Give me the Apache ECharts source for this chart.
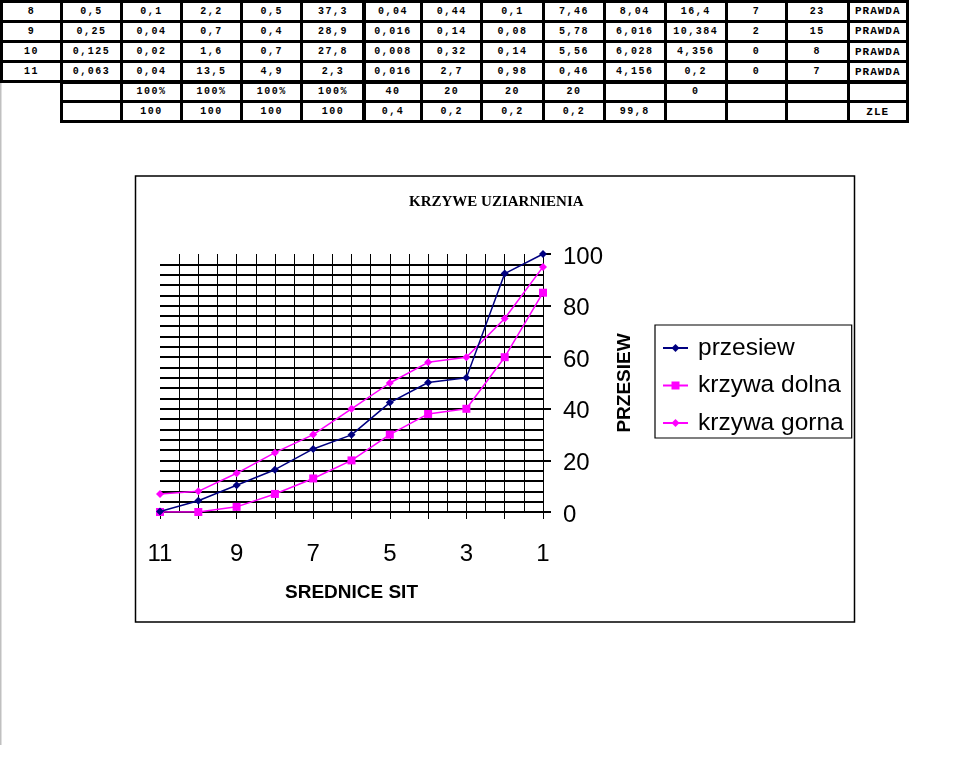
<!DOCTYPE html>
<html>
<head>
<meta charset="utf-8">
<script src="https://cdn.jsdelivr.net/npm/echarts@6/dist/echarts.min.js"></script>
<style>
  html, body { margin: 0; padding: 0; background: #fff; }
  #wrap { position: relative; width: 969px; height: 764px; overflow: hidden; }
  #chart { position: absolute; left: 0; top: 0; width: 969px; height: 764px; }
  #table { position: absolute; left: 0; top: 0; width: 969px; height: 130px; }
  .cell { position: absolute; box-sizing: border-box; border: 3px solid #000; background: #fff;
          font-family: "Liberation Mono", "DejaVu Sans Mono", monospace; font-weight: bold;
          font-size: 10px; letter-spacing: 1.5px; color: #000; display: flex; align-items: center;
          justify-content: center; }
  .cell.word { font-size: 11px; letter-spacing: 1px; }
</style>
</head>
<body>
<div id="wrap">
  <div id="chart"></div>
  <div id="table"></div>
</div>
<script>
// ---- table data ----
const tableRow8  = ["8","0,5","0,1","2,2","0,5","37,3","0,04","0,44","0,1","7,46","8,04","16,4","7","23","PRAWDA"];
const tableRow9  = ["9","0,25","0,04","0,7","0,4","28,9","0,016","0,14","0,08","5,78","6,016","10,384","2","15","PRAWDA"];
const tableRow10 = ["10","0,125","0,02","1,6","0,7","27,8","0,008","0,32","0,14","5,56","6,028","4,356","0","8","PRAWDA"];
const tableRow11 = ["11","0,063","0,04","13,5","4,9","2,3","0,016","2,7","0,98","0,46","4,156","0,2","0","7","PRAWDA"];
const tableRowPct = [null,"","100%","100%","100%","100%","40","20","20","20","","0","","",""];
const tableRowSum = [null,"","100","100","100","100","0,4","0,2","0,2","0,2","99,8","","","","ZLE"];

// ---- chart data ----
const sieves = [11, 10, 9, 8, 7, 6, 5, 4, 3, 2, 1];
const przesiew = [0.2, 4.356, 10.384, 16.4, 24.44, 29.9, 42.4, 50.2, 52.0, 92.4, 100];
const krzywaDolna = [0, 0, 2, 7, 13, 20, 30, 38, 40, 60, 85];
const krzywaGorna = [7, 8, 15, 23, 30, 40, 50, 58, 60, 75, 95];
const xTickLabels = [11, 9, 7, 5, 3, 1];
const seriesNames = ["przesiew", "krzywa dolna", "krzywa gorna"];

// ---- table layout ----
const colLines = [1.7, 61.5, 121.3, 181.5, 241.5, 301.8, 364, 421.8, 481.7, 543.3, 604.5, 665, 726.5, 786.5, 848, 907.5];
const rowLines = [1.7, 21.3, 41.5, 61.8, 82, 101.5, 121.5];
const rows = [tableRow8, tableRow9, tableRow10, tableRow11, tableRowPct, tableRowSum];
const tbl = document.getElementById('table');
rows.forEach((row, r) => {
  row.forEach((txt, c) => {
    if (txt === null) return;
    const d = document.createElement('div');
    d.className = 'cell' + (/[A-Z]/.test(txt) ? ' word' : '');
    const l = colLines[c] - 1.5, t = rowLines[r] - 1.5;
    d.style.left = l + 'px';
    d.style.top = t + 'px';
    d.style.width = (colLines[c + 1] - colLines[c] + 3) + 'px';
    d.style.height = (rowLines[r + 1] - rowLines[r] + 3) + 'px';
    d.textContent = txt;
    tbl.appendChild(d);
  });
});

// ---- chart ----
const chart = echarts.init(document.getElementById('chart'), null, { renderer: 'canvas' });
const toPairs = arr => sieves.map((s, i) => [s, arr[i]]);
const font = "'Liberation Sans', Arial, sans-serif";

chart.setOption({
  animation: false,
  backgroundColor: 'transparent',
  title: {
    text: 'KRZYWE UZIARNIENIA',
    left: 409, top: 194.5, padding: 0,
    textStyle: { fontFamily: "'Liberation Serif', 'Times New Roman', serif", fontWeight: 'bold', fontSize: 15, color: '#000' }
  },
  graphic: [
    { type: 'rect', shape: { x: 135.5, y: 176, width: 719, height: 446 }, style: { fill: 'none', stroke: '#000', lineWidth: 1.5 }, silent: true },
    { type: 'rect', shape: { x: 0, y: 83, width: 1.5, height: 662 }, style: { fill: '#c0c0c0' }, silent: true }
  ],
  legend: {
    orient: 'vertical',
    left: 655, top: 325,
    padding: [10, 8, 2, 7],
    borderColor: '#000', borderWidth: 1.2,
    itemWidth: 25, itemHeight: 10, itemGap: 11.5,
    data: seriesNames,
    textStyle: { fontFamily: font, fontSize: 24.5, color: '#000', lineHeight: 26, padding: [0, 0, 0, 5] }
  },
  grid: { left: 160, right: 426, top: 254, bottom: 252, containLabel: false },
  xAxis: {
    type: 'value', inverse: true, min: 1, max: 11, interval: 1,
    name: 'SREDNICE SIT', nameLocation: 'middle', nameGap: 71,
    nameTextStyle: { fontFamily: font, fontWeight: 'bold', fontSize: 19, color: '#000' },
    axisLine: { show: true, lineStyle: { color: '#000', width: 2 } },
    axisTick: { show: true, length: 7, lineStyle: { color: '#000', width: 1 } },
    axisLabel: {
      margin: 30, fontFamily: font, fontSize: 24, color: '#000',
      formatter: v => (xTickLabels.indexOf(v) >= 0 ? String(v) : '')
    },
    splitLine: { show: true, showMaxLine: false, lineStyle: { color: '#000', width: 1 } },
    minorTick: { show: false, splitNumber: 2 },
    minorSplitLine: { show: true, lineStyle: { color: '#000', width: 1 } }
  },
  yAxis: {
    type: 'value', position: 'right', min: 0, max: 100, interval: 20,
    name: 'PRZESIEW', nameLocation: 'middle', nameGap: 72, nameRotate: 90,
    nameTextStyle: { fontFamily: font, fontWeight: 'bold', fontSize: 19, color: '#000' },
    axisLine: { show: true, lineStyle: { color: '#000', width: 1 } },
    axisTick: { show: true, length: 8, lineStyle: { color: '#000', width: 2 } },
    axisLabel: {
      margin: 20, color: '#000',
      formatter: v => '{t|' + v + '}',
      rich: { t: { fontFamily: font, fontSize: 24, color: '#000', padding: [6, 0, 0, 0] } }
    },
    splitLine: { show: true, showMaxLine: false, lineStyle: { color: '#000', width: 2 } },
    minorTick: { show: false, splitNumber: 5 },
    minorSplitLine: { show: true, lineStyle: { color: '#000', width: 2 } }
  },
  series: [
    {
      name: seriesNames[0], type: 'line', data: toPairs(przesiew),
      symbol: 'diamond', symbolSize: 8,
      lineStyle: { color: '#000080', width: 1.5 }, itemStyle: { color: '#000080' }, z: 5
    },
    {
      name: seriesNames[1], type: 'line', data: toPairs(krzywaDolna),
      symbol: 'rect', symbolSize: 8,
      lineStyle: { color: '#FF00FF', width: 1.5 }, itemStyle: { color: '#FF00FF' }, z: 4
    },
    {
      name: seriesNames[2], type: 'line', data: toPairs(krzywaGorna),
      symbol: 'diamond', symbolSize: 8,
      lineStyle: { color: '#FF00FF', width: 1.5 }, itemStyle: { color: '#FF00FF' }, z: 4
    }
  ]
});
</script>
</body>
</html>
